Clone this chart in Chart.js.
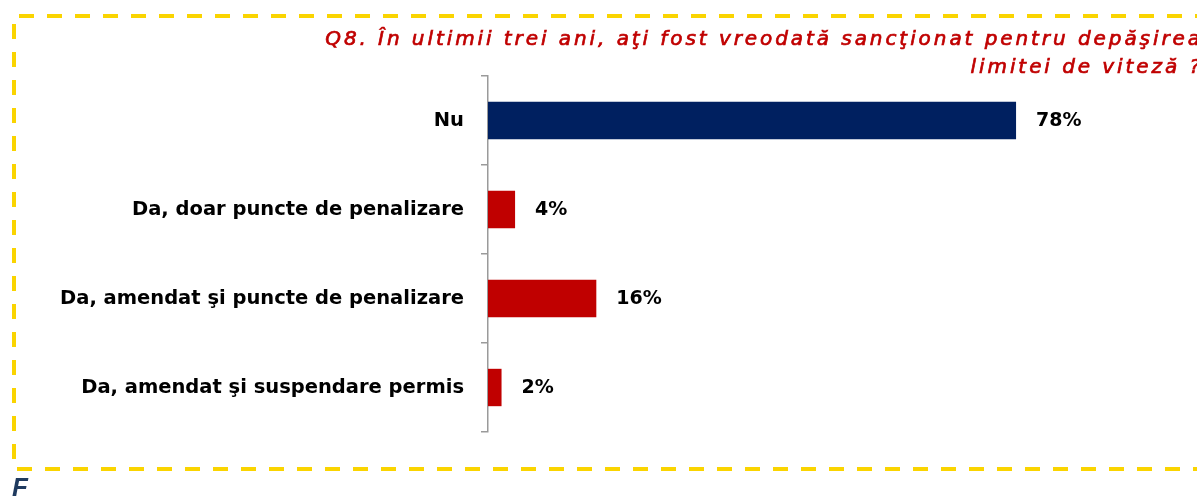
<!DOCTYPE html>
<html lang="ro">
<head>
<meta charset="utf-8">
<title>Q8 - sancţiuni depăşirea limitei de viteză</title>
<script src="https://cdn.jsdelivr.net/npm/chart.js@4/dist/chart.umd.min.js"></script>
<style>
  html, body { margin: 0; padding: 0; background: #fff; overflow: hidden; }
  #wrap { position: relative; width: 1197px; height: 499px; }
</style>
</head>
<body>
<div id="wrap"><canvas id="q8Chart"></canvas></div>
<script>
const categories = [
  'Nu',
  'Da, doar puncte de penalizare',
  'Da, amendat şi puncte de penalizare',
  'Da, amendat şi suspendare permis'
];
const values = [78, 4, 16, 2];
const barColors = ['#002060', '#c00000', '#c00000', '#c00000'];
const titleLines = [
  'Q8. În ultimii trei ani, aţi fost vreodată sancţionat pentru depăşirea',
  'limitei de viteză ?'
];
const footerText = 'F';

(() => {
  const el = document.getElementById('q8Chart');
  if (!el || typeof Chart === 'undefined') return;

  // yellow dashed frame, title and the stray footer letter
  const framePlugin = {
    id: 'frame',
    beforeDraw(chart) {
      const { ctx } = chart;
      ctx.save();
      ctx.strokeStyle = '#fad400';
      ctx.lineWidth = 4;
      ctx.setLineDash([15, 13]);
      ctx.beginPath();
      ctx.moveTo(1210, 16);
      ctx.lineTo(14, 16);
      ctx.lineTo(14, 469);
      ctx.lineTo(1210, 469);
      ctx.stroke();
      ctx.restore();
    },
    afterDraw(chart) {
      const { ctx } = chart;
      ctx.save();
      ctx.fillStyle = '#c00000';
      ctx.strokeStyle = '#c00000';
      ctx.lineWidth = 0.7;
      ctx.font = 'italic 20px "DejaVu Sans"';
      ctx.textAlign = 'right';
      ctx.textBaseline = 'alphabetic';
      // spread the first line so it runs from x~324 to the (clipped) right edge
      ctx.letterSpacing = '0px';
      const w = ctx.measureText(titleLines[0]).width;
      const gap = Math.max(0, (878 - w) / titleLines[0].length);
      ctx.letterSpacing = gap.toFixed(2) + 'px';
      [[titleLines[0], 45], [titleLines[1], 73]].forEach(([t, y]) => {
        ctx.fillText(t, 1203, y);
        ctx.strokeText(t, 1203, y);
      });

      ctx.letterSpacing = '0px';
      ctx.textAlign = 'left';
      ctx.textBaseline = 'top';
      ctx.fillStyle = '#1f3a5f';
      ctx.font = 'italic bold 26px "Liberation Sans"';
      ctx.fillText(footerText, 12, 476);
      ctx.restore();
    }
  };

  const valueLabels = {
    id: 'valueLabels',
    afterDatasetsDraw(chart) {
      const { ctx } = chart;
      const meta = chart.getDatasetMeta(0);
      ctx.save();
      ctx.fillStyle = '#000';
      ctx.font = 'bold 19px "DejaVu Sans"';
      ctx.textAlign = 'left';
      ctx.textBaseline = 'middle';
      meta.data.forEach((bar, i) => {
        ctx.fillText(values[i] + '%', bar.x + 20, bar.y + 1);
      });
      ctx.restore();
    }
  };

  new Chart(el, {
    type: 'bar',
    data: {
      labels: categories,
      datasets: [{
        data: values,
        backgroundColor: barColors,
        borderWidth: 0,
        barPercentage: 0.42,
        categoryPercentage: 1
      }]
    },
    options: {
      indexAxis: 'y',
      responsive: true,
      maintainAspectRatio: false,
      animation: false,
      layout: { padding: { left: 0, top: 76, right: 32, bottom: 67 } },
      plugins: {
        legend: { display: false },
        tooltip: { enabled: false }
      },
      scales: {
        x: {
          display: false,
          min: 0,
          max: 100
        },
        y: {
          afterFit: (s) => { s.width = 488; },
          border: { display: true, color: '#9a9a9a', width: 1.5 },
          grid: {
            drawOnChartArea: false,
            drawTicks: true,
            tickLength: 7,
            color: '#9a9a9a',
            lineWidth: 1.5
          },
          ticks: {
            color: '#000',
            padding: 17,
            font: { family: '"DejaVu Sans"', size: 19.5, weight: 'bold' }
          }
        }
      }
    },
    plugins: [framePlugin, valueLabels]
  });
})();
</script>
</body>
</html>
